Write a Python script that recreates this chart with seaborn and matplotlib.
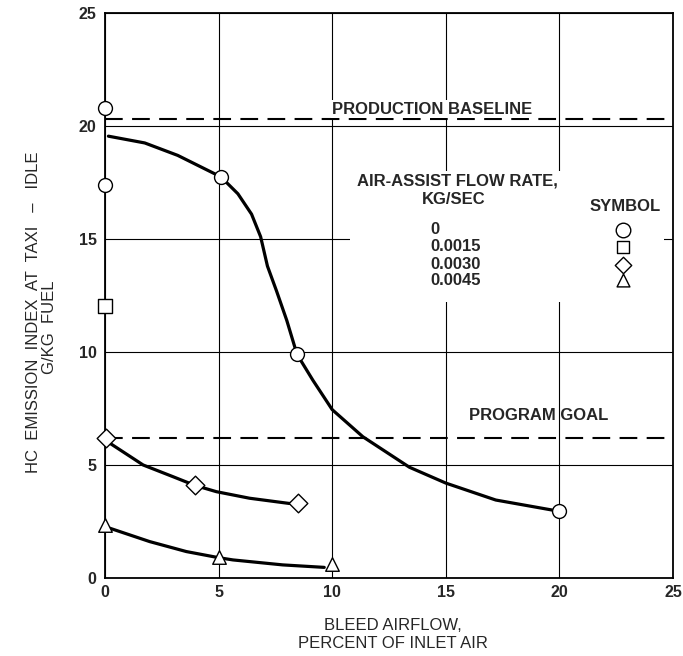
import matplotlib
matplotlib.use('Agg')
import matplotlib.pyplot as plt
from matplotlib.patches import Rectangle
import seaborn as sns

# measured points (air-assist flow rate, kg/sec)
circle_x = [0.0, 0.0, 5.1, 8.45, 20.0]          # 0
circle_y = [20.8, 17.4, 17.75, 9.9, 2.95]
square_x = [0.0]                                 # 0.0015
square_y = [12.05]
diamond_x = [0.05, 3.95, 8.5]                    # 0.0030
diamond_y = [6.2, 4.1, 3.3]
triangle_x = [0.0, 5.0, 10.0]                    # 0.0045
triangle_y = [2.35, 0.95, 0.6]

# faired curves
curve0_x = [0.15, 1.75, 3.2, 4.5, 5.1, 5.85, 6.45, 6.85, 7.15, 7.55, 8.0, 8.45,
            9.15, 10.0, 11.35, 13.4, 15.0, 17.2, 20.0]
curve0_y = [19.55, 19.25, 18.7, 18.05, 17.75, 17.0, 16.1, 15.1, 13.8, 12.7, 11.4, 9.9,
            8.75, 7.45, 6.25, 4.9, 4.2, 3.45, 2.95]
curve30_x = [0.22, 1.68, 3.0, 3.95, 4.9, 6.36, 8.1, 8.5]
curve30_y = [5.96, 5.0, 4.48, 4.1, 3.82, 3.53, 3.3, 3.3]
curve45_x = [0.22, 1.97, 3.58, 5.0, 5.63, 7.82, 9.65]
curve45_y = [2.2, 1.61, 1.17, 0.9, 0.8, 0.58, 0.47]

baseline = 20.3
goal = 6.2

legend_rates = ['0', '0.0015', '0.0030', '0.0045']
legend_markers = ['o', 's', 'D', '^']
ticks = [0, 5, 10, 15, 20, 25]

sns.set_style('white')
plt.rcParams['font.family'] = ['Liberation Sans', 'DejaVu Sans']

fig = plt.figure(figsize=(6.83, 6.56), dpi=100)
ax = fig.add_axes([105/683, 1-578/656, (673-105)/683, (578-13)/656])

ax.set_xlim(0, 25)
ax.set_ylim(0, 25)
ax.set_xticks(ticks)
ax.set_yticks(ticks)
ax.set_xticklabels([str(t) for t in ticks], fontweight='bold', fontsize=11.5)
ax.set_yticklabels([str(t) for t in ticks], fontweight='bold', fontsize=11.5)
ax.tick_params(axis='x', length=0, pad=5)
ax.tick_params(axis='y', length=0, pad=6)
ax.set_axisbelow(True)
ax.grid(True, color='black', lw=0.8)
for s in ax.spines.values():
    s.set_color('black')
    s.set_linewidth(1.3)

# white area behind the symbol table
ax.add_patch(Rectangle((10.8, 12.2), 13.8, 5.8, facecolor='white', edgecolor='none', zorder=1))

ax.axhline(baseline, color='black', lw=1.5, dashes=(8.5, 4.5), zorder=2)
ax.axhline(goal, color='black', lw=1.5, dashes=(8.5, 4.5), zorder=2)

for cx, cy in [(curve0_x, curve0_y), (curve30_x, curve30_y), (curve45_x, curve45_y)]:
    sns.lineplot(x=cx, y=cy, ax=ax, color='black', lw=2.3, sort=False, estimator=None, zorder=3)

pts = [(circle_x, circle_y, 'o', 100), (square_x, square_y, 's', 100),
       (diamond_x, diamond_y, 'D', 90), (triangle_x, triangle_y, '^', 95)]
for px, py, mk, sz in pts:
    sns.scatterplot(x=px, y=py, ax=ax, marker=mk, s=sz, facecolor='white',
                    edgecolor='black', linewidth=1.0, zorder=4)
for c in ax.collections:
    c.set_clip_on(False)

tk = dict(fontsize=12, fontweight='bold', va='center', zorder=2.5)
ax.text(10.0, 20.75, 'PRODUCTION BASELINE', ha='left',
        bbox=dict(facecolor='white', edgecolor='none', pad=1), **tk)
ax.text(16.0, 7.2, 'PROGRAM GOAL', ha='left', **tk)

ax.text(15.5, 17.57, 'AIR-ASSIST FLOW RATE,', ha='center', **tk)
ax.text(15.35, 16.73, 'KG/SEC', ha='center', **tk)
ax.text(22.9, 16.43, 'SYMBOL', ha='center', **tk)
leg_y = [15.4, 14.65, 13.85, 13.17]
for lab, mk, yy in zip(legend_rates, legend_markers, leg_y):
    ax.text(14.33, yy, lab, ha='left', **tk)
    ax.scatter([22.8], [yy], marker=mk, s=110 if mk == 'o' else (70 if mk == 'D' else 85),
               facecolor='white', edgecolor='black', linewidth=1.0, zorder=4)

fig.text(393/683, 1-625/656, 'BLEED AIRFLOW,', ha='center', va='center', fontsize=12)
fig.text(393/683, 1-643/656, 'PERCENT OF INLET AIR', ha='center', va='center', fontsize=12)
fig.text(34/683, 1-312/656, 'HC  EMISSION  INDEX  AT  TAXI   \u2013   IDLE', ha='center', va='center',
         rotation=90, fontsize=12)
fig.text(49/683, 1-327/656, 'G/KG  FUEL', ha='center', va='center', rotation=90, fontsize=12)

fig.savefig('out.png', dpi=100)
